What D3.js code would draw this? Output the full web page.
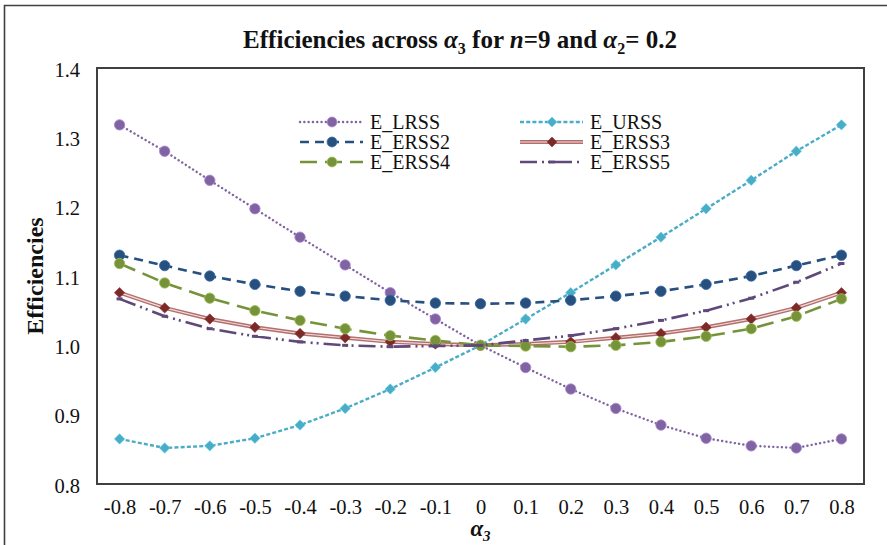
<!DOCTYPE html>
<html>
<head>
<meta charset="utf-8">
<script src="https://cdn.jsdelivr.net/npm/d3@7/dist/d3.min.js"></script>
<style>
  html, body { margin: 0; padding: 0; background: #fff; }
  svg { display: block; font-family: "Liberation Serif", "Times New Roman", serif; }
</style>
</head>
<body>
<svg id="chart" width="887" height="545"></svg>
<script>
// α3 values along the horizontal axis
const alpha3 = ["-0.8", "-0.7", "-0.6", "-0.5", "-0.4", "-0.3", "-0.2", "-0.1", "0",
                "0.1", "0.2", "0.3", "0.4", "0.5", "0.6", "0.7", "0.8"];

// Efficiency series (n = 9, α2 = 0.2)
const E_LRSS  = [1.318, 1.280, 1.238, 1.197, 1.156, 1.116, 1.076, 1.038, 1.000,
                 0.968, 0.937, 0.909, 0.885, 0.866, 0.855, 0.852, 0.865];
const E_URSS  = [0.865, 0.852, 0.855, 0.866, 0.885, 0.909, 0.937, 0.968, 1.000,
                 1.038, 1.076, 1.116, 1.156, 1.197, 1.238, 1.280, 1.318];
const E_ERSS2 = [1.130, 1.115, 1.100, 1.088, 1.078, 1.071, 1.065, 1.061, 1.060,
                 1.061, 1.065, 1.071, 1.078, 1.088, 1.100, 1.115, 1.130];
const E_ERSS3 = [1.076, 1.054, 1.038, 1.026, 1.017, 1.011, 1.005, 1.002, 1.000,
                 1.002, 1.005, 1.011, 1.017, 1.026, 1.038, 1.054, 1.076];
const E_ERSS4 = [1.118, 1.090, 1.068, 1.050, 1.036, 1.024, 1.014, 1.007, 1.000,
                 0.999, 0.998, 1.000, 1.005, 1.013, 1.024, 1.042, 1.067];
const E_ERSS5 = [1.067, 1.042, 1.024, 1.013, 1.005, 1.000, 0.998, 0.999, 1.000,
                 1.007, 1.014, 1.024, 1.036, 1.050, 1.068, 1.091, 1.118];

const yTicks = [0.8, 0.9, 1.0, 1.1, 1.2, 1.3, 1.4];

// Visual style per series
const series = [
  { name: "E_LRSS",  values: E_LRSS,  color: "#8064a2", dash: "0.1,4.2", cap: "round", width: 2.4, marker: "circle" },
  { name: "E_URSS",  values: E_URSS,  color: "#4bacc6", dash: "4,2.2",   cap: "butt",  width: 2.4, marker: "diamond" },
  { name: "E_ERSS2", values: E_ERSS2, color: "#27507f", dash: "9,6",     cap: "butt",  width: 2.6, marker: "circle" },
  { name: "E_ERSS3", values: E_ERSS3, color: "#b46f6d", dash: null,      cap: "butt",  width: 4.0, marker: "diamond", markerColor: "#7a2a28", inner: "#f1dcdc" },
  { name: "E_ERSS4", values: E_ERSS4, color: "#76933c", dash: "17,8",    cap: "butt",  width: 2.6, marker: "circle" },
  { name: "E_ERSS5", values: E_ERSS5, color: "#5f497a", dash: "17,5,2,4,2,5", cap: "butt", width: 2.6, marker: "bar" }
];

const svg = d3.select("#chart");

// outer frame
svg.append("path")
  .attr("d", "M4.5,545 V5.5 H887")
  .attr("fill", "none").attr("stroke", "#404040").attr("stroke-width", 1.6);

const plot = { left: 97, right: 864, top: 68, bottom: 484 };

const x = d3.scalePoint().domain(alpha3).range([plot.left, plot.right]).padding(0.5);
const y = d3.scaleLinear().domain([0.8, 1.4]).range([plot.bottom, plot.top]);

// axes (labels only, no tick marks)
const yAxis = svg.append("g")
  .attr("transform", `translate(${plot.left},0)`)
  .call(d3.axisLeft(y).tickValues(yTicks).tickFormat(d3.format(".1f")).tickSize(0).tickPadding(17));
const xAxis = svg.append("g")
  .attr("transform", `translate(0,${plot.bottom})`)
  .call(d3.axisBottom(x).tickSize(0).tickPadding(15));
[xAxis, yAxis].forEach(g => {
  g.select(".domain").remove();
  g.selectAll("text")
    .attr("font-family", "Liberation Serif")
    .attr("font-size", 20.5)
    .attr("fill", "#111");
});
yAxis.selectAll("text").attr("dy", "0.40em");

// plot area border
svg.append("rect")
  .attr("x", plot.left).attr("y", plot.top)
  .attr("width", plot.right - plot.left).attr("height", plot.bottom - plot.top)
  .attr("fill", "none").attr("stroke", "#404040").attr("stroke-width", 2);

const line = d3.line().x((d, i) => x(alpha3[i])).y(d => y(d));

function drawMarker(g, s, cx, cy, scale = 1) {
  const mc = s.markerColor || s.color;
  if (s.marker === "circle") {
    g.append("circle").attr("cx", cx).attr("cy", cy).attr("r", 5.2 * scale)
      .attr("fill", mc).attr("stroke", d3.color(mc).brighter(0.8)).attr("stroke-width", 0.8);
  } else if (s.marker === "diamond") {
    const r = 5.2 * scale;
    g.append("path")
      .attr("d", `M${cx},${cy - r}L${cx + r},${cy}L${cx},${cy + r}L${cx - r},${cy}Z`)
      .attr("fill", mc).attr("stroke", d3.color(mc).brighter(0.6)).attr("stroke-width", 0.6);
  } else if (s.marker === "bar") {
    g.append("rect").attr("x", cx - 3).attr("y", cy - 1.5).attr("width", 6).attr("height", 3)
      .attr("fill", mc);
  }
}

function strokeLine(sel, s) {
  sel.attr("fill", "none")
    .attr("stroke", s.color)
    .attr("stroke-width", s.width)
    .attr("stroke-linecap", s.cap)
    .attr("stroke-linejoin", "round")
    .attr("stroke-dasharray", s.dash);
}

// series lines and markers
const drawOrder = ["E_URSS", "E_LRSS", "E_ERSS2", "E_ERSS3", "E_ERSS4", "E_ERSS5"];
drawOrder.forEach(name => {
  const s = series.find(d => d.name === name);
  const g = svg.append("g").attr("class", "series");
  g.append("path").datum(s.values).attr("d", line).call(strokeLine, s);
  if (s.inner) {
    g.append("path").datum(s.values).attr("d", line)
      .attr("fill", "none").attr("stroke", s.inner).attr("stroke-width", 1.1);
  }
  s.values.forEach((v, i) => drawMarker(g, s, x(alpha3[i]), y(v)));
});

// legend (two columns)
const legendCols = [300, 520];
const legendRows = [122, 142, 162];
series.forEach((s, i) => {
  const lx = legendCols[i % 2], ly = legendRows[Math.floor(i / 2)];
  const g = svg.append("g").attr("class", "legend-item");
  g.append("path").attr("d", `M${lx},${ly}H${lx + 63}`).call(strokeLine, s);
  if (s.inner) {
    g.append("path").attr("d", `M${lx},${ly}H${lx + 63}`)
      .attr("stroke", s.inner).attr("stroke-width", 1.1);
  }
  drawMarker(g, s, lx + 32, ly, 0.95);
  g.append("text").attr("x", lx + 70).attr("y", ly).attr("dy", "0.35em")
    .attr("font-size", 20).attr("fill", "#111").text(s.name);
});

// title
const title = svg.append("text")
  .attr("x", 460).attr("y", 48)
  .attr("text-anchor", "middle")
  .attr("font-size", 25).attr("font-weight", "bold").attr("fill", "#111");
title.append("tspan").text("Efficiencies across ");
title.append("tspan").attr("font-style", "italic").text("α");
title.append("tspan").attr("font-size", 16).attr("dy", 6).text("3");
title.append("tspan").attr("dy", -6).text(" for ");
title.append("tspan").attr("font-style", "italic").text("n");
title.append("tspan").text("=9 and ");
title.append("tspan").attr("font-style", "italic").text("α");
title.append("tspan").attr("font-size", 16).attr("dy", 6).text("2");
title.append("tspan").attr("dy", -6).text("= 0.2");

// axis titles
const xTitle = svg.append("text")
  .attr("x", (plot.left + plot.right) / 2).attr("y", 536)
  .attr("text-anchor", "middle")
  .attr("font-size", 23).attr("font-weight", "bold").attr("font-style", "italic").attr("fill", "#111");
xTitle.append("tspan").text("α");
xTitle.append("tspan").attr("font-size", 15).attr("dy", 5).text("3");

svg.append("text")
  .attr("transform", `translate(43,${(plot.top + plot.bottom) / 2}) rotate(-90)`)
  .attr("text-anchor", "middle")
  .attr("font-size", 24).attr("font-weight", "bold").attr("fill", "#111")
  .text("Efficiencies");
</script>
</body>
</html>
